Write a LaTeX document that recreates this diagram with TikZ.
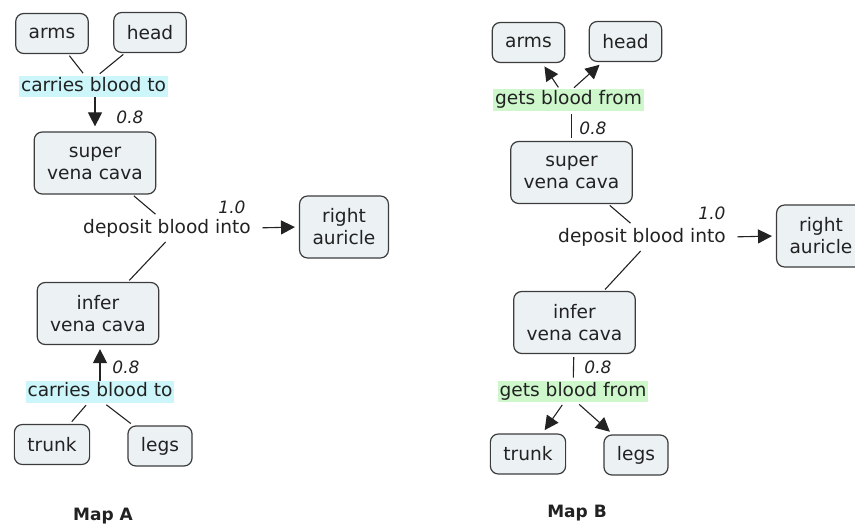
\documentclass[tikz,border=0pt]{standalone}
\usepackage{fontspec}
\setmainfont{DejaVu Sans}
\usetikzlibrary{arrows.meta}

\definecolor{boxfill}{RGB}{236,241,244}
\definecolor{boxline}{RGB}{60,60,60}
\definecolor{linkcyan}{RGB}{204,246,250}
\definecolor{linkgreen}{RGB}{206,248,204}
\definecolor{inkgray}{RGB}{34,34,34}

\begin{document}
\begin{tikzpicture}[
    x=1pt, y=-1pt,
    font=\fontsize{18.6}{22}\selectfont,
    text=inkgray,
    concept/.style={draw=boxline, fill=boxfill, rounded corners=8pt, line width=1.2pt,
                    align=center, inner xsep=13pt, inner ysep=8pt, minimum height=40pt},
    tall/.style={minimum height=62pt},
    link/.style={fill=#1, inner xsep=2pt, inner ysep=2pt, text height=13.5pt, text depth=4pt},
    link/.default=white,
    weight/.style={font=\fontsize{17}{20}\selectfont\itshape},
    edge/.style={draw=inkgray, line width=1.1pt},
    arrow/.style={edge, -{Triangle[length=14pt, width=14pt]}},
    caption/.style={font=\fontsize{17}{20}\selectfont\bfseries}
]
    \useasboundingbox (0,0) rectangle (855,524);

    % Map A
    \node[concept] (armsA)  at (52,33.5)  {arms};
    \node[concept] (headA)  at (150,32.5) {head};
    \node[link=linkcyan] (carryA1) at (93.5,86.5) {carries blood to};
    \node[concept, tall] (superA) at (95,163)   {super\\vena cava};
    \node (depA) at (167,228) {deposit blood into};
    \node[concept, tall] (rightA) at (344,227)  {right\\auricle};
    \node[concept, tall] (inferA) at (98,313.5) {infer\\vena cava};
    \node[link=linkcyan] (carryA2) at (100,392) {carries blood to};
    \node[concept] (trunkA) at (52,444.5) {trunk};
    \node[concept] (legsA)  at (160,446)  {legs};

    \draw[edge, shorten <=2pt, shorten >=3pt] (armsA) -- (carryA1);
    \draw[edge, shorten <=2pt, shorten >=3pt] (headA) -- ([xshift=4pt]carryA1.north);
    \draw[arrow, shorten >=5pt] (carryA1.south -| superA) -- (superA);
    \node[weight] (wA1) at (130,117) {0.8};
    \draw[edge, shorten <=2pt, shorten >=2pt] (superA) -- ([xshift=-10pt]depA.north);
    \draw[edge, shorten <=2pt, shorten >=2pt] (inferA) -- ([xshift=0pt]depA.south);
    \draw[arrow, shorten <=8pt, shorten >=4pt] (depA.east) -- (rightA.west);
    \node[weight] (wA2) at (232,207) {1.0};
    \draw[arrow, shorten >=4pt] (carryA2.north) -- (carryA2.north |- inferA.south);
    \node[weight] (wA3) at (126,367) {0.8};
    \draw[edge, shorten <=3pt, shorten >=3pt] ([xshift=-12pt]carryA2.south) -- (trunkA);
    \draw[edge, shorten <=3pt, shorten >=3pt] ([xshift=4pt]carryA2.south) -- (legsA);
    \node[caption] (mapA) at (103,516) {Map A};

    % Map B
    \node[concept] (armsB)  at (528.5,42.5) {arms};
    \node[concept] (headB)  at (625.5,41.5) {head};
    \node[link=linkgreen] (getsB1) at (568.5,100) {gets blood from};
    \node[concept, tall] (superB) at (571.5,172.5) {super\\vena cava};
    \node (depB) at (642,237) {deposit blood into};
    \node[concept, tall] (rightB) at (821,236)  {right\\auricle};
    \node[concept, tall] (inferB) at (574.5,322.5) {infer\\vena cava};
    \node[link=linkgreen] (getsB2) at (573,391.5) {gets blood from};
    \node[concept] (trunkB) at (528,454)  {trunk};
    \node[concept] (legsB)  at (636,455)  {legs};

    \draw[arrow, shorten <=2pt, shorten >=4pt] ([xshift=-9pt]getsB1.north) -- (armsB);
    \draw[arrow, shorten <=2pt, shorten >=4pt] ([xshift=4pt]getsB1.north) -- (headB);
    \draw[edge, shorten <=3pt, shorten >=3pt] (superB) -- (superB |- getsB1.south);
    \node[weight] (wB1) at (593,128) {0.8};
    \draw[edge, shorten <=2pt, shorten >=2pt] (superB) -- ([xshift=-10pt]depB.north);
    \draw[edge, shorten <=2pt, shorten >=2pt] (inferB) -- ([xshift=0pt]depB.south);
    \draw[arrow, shorten <=8pt, shorten >=4pt] (depB.east) -- (rightB.west);
    \node[weight] (wB2) at (712,213) {1.0};
    \draw[edge, shorten <=3pt, shorten >=3pt] (inferB) -- (getsB2);
    \node[weight] (wB3) at (598,367) {0.8};
    \draw[arrow, shorten <=3pt, shorten >=4pt] ([xshift=-9pt]getsB2.south) -- (trunkB);
    \draw[arrow, shorten <=3pt, shorten >=4pt] ([xshift=4pt]getsB2.south) -- (legsB);
    \node[caption] (mapB) at (577,513) {Map B};
\end{tikzpicture}
\end{document}
